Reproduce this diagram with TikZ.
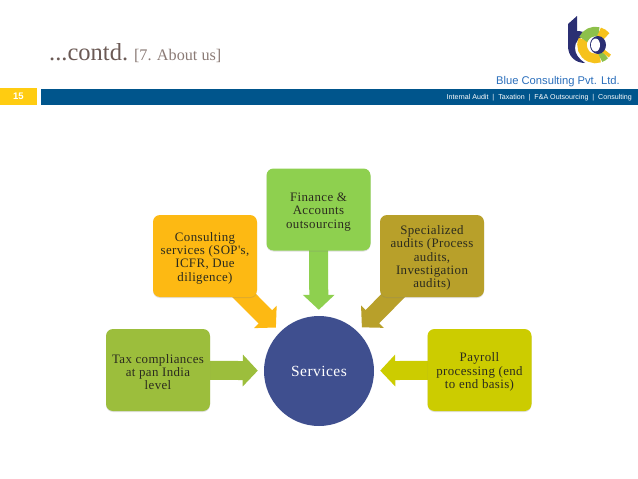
\documentclass[tikz,border=0pt]{standalone}
\usepackage{fontspec}
\setmainfont{Liberation Serif}
\setsansfont{Liberation Sans}
\newfontfamily\boxfont[LetterSpace=3]{Liberation Serif}
\newcommand{\toprule}{\rule{0pt}{13pt}}
\usetikzlibrary{arrows.meta,positioning,shadows,backgrounds}
\definecolor{barblue}{HTML}{00558C}
\definecolor{tagyellow}{HTML}{FFCC11}
\definecolor{titlebrown}{HTML}{6B5A55}
\definecolor{subbrown}{HTML}{8A7A75}
\definecolor{brandblue}{HTML}{2A6EBB}
\definecolor{logonavy}{HTML}{2B2F73}
\definecolor{logogreen}{HTML}{8DC04A}
\definecolor{logoyellow}{HTML}{F6C21C}
\definecolor{taxgreen}{HTML}{9CBE3C}
\definecolor{consultamber}{HTML}{FDB913}
\definecolor{financegreen}{HTML}{8ED04F}
\definecolor{auditgold}{HTML}{B8A02A}
\definecolor{payrollyellow}{HTML}{CCCC00}
\definecolor{servblue}{HTML}{3F4F8F}
\definecolor{boxtext}{HTML}{2B2B1E}
\tikzset{
  x=1pt, y=-1pt,
  svcbox/.style={
    fill=#1, rounded corners=7pt, text=boxtext,
    minimum width=104pt, minimum height=82pt,
    font=\boxfont\fontsize{12.9}{13.4}\selectfont, align=center,
    inner sep=2pt,
    drop shadow={opacity=0.25, shadow xshift=0pt, shadow yshift=-1pt},
  },
  blockarrow/.style={
    draw=#1, line width=19pt, shorten >=6pt, shorten <=-12pt,
    -{Triangle[length=15pt,width=31pt,fill=#1]},
  },
  logoring/.style={line width=9.5pt, draw=#1},
}

\begin{document}
\begin{tikzpicture}
  \useasboundingbox (0,0) rectangle (638,479);

  % header
  \node[anchor=base west, inner sep=0pt, text=titlebrown, font=\fontsize{24.5}{24.5}\selectfont] (title)
    at (49,60) {...contd.};
  \node[inner sep=0pt, text=subbrown, font=\fontsize{16.2}{16.2}\selectfont,
        right=5.5pt of title.base east, anchor=base west] (subtitle) {[7. About us]};
  \node[fill=tagyellow, minimum width=37pt, minimum height=17pt, inner sep=0pt,
        text=white, font=\sffamily\bfseries\fontsize{9.5}{9.5}\selectfont] (tag) at (18.5,96.5) {15};
  \node[fill=barblue, minimum width=597pt, minimum height=16pt, inner sep=0pt, anchor=west] (bar)
    at (41,97) {};
  \node[anchor=east, inner sep=0pt, text=white, font=\sffamily\fontsize{7.1}{7.1}\selectfont] (tagline)
    at (632,97.5) {Internal Audit\ \ |\ \ Taxation\ \ |\ \ F\&A Outsourcing\ \ |\ \ Consulting};
  \node[anchor=base east, inner sep=0pt, text=brandblue, font=\sffamily\fontsize{11.2}{11.2}\selectfont] (brand)
    at (620,84) {Blue Consulting Pvt. Ltd.};

  % logo
  \fill[logonavy] (568,24) -- (577,16) -- (577,31) .. controls (581,31) and (584,32) .. (587,34)
    .. controls (579,37) and (575,42) .. (575,48) .. controls (575,54) and (579,59) .. (585,63)
    .. controls (575,63) and (568,56) .. (568,46) -- cycle;
  \draw[logoring=logoyellow] (595.5,45) ++(205:13.5) arc (205:70:13.5);
  \draw[logoring=logogreen] (595.5,45) ++(205:13.5) arc (205:285:13.5);
  \draw[logoring=logoyellow] (595.5,45) ++(285:13.5) arc (285:322:13.5);
  \draw[logoring=logogreen] (595.5,45) ++(70:13.5) arc (70:45:13.5);
  \draw[logoring=logoyellow] (595.5,45) ++(45:13.5) arc (45:30:13.5);
  \fill[logonavy] (598,45) ellipse (8pt and 9pt);
  \fill[white] (595.5,45) ellipse (4.5pt and 6.5pt);

  % services
  \node[circle, fill=servblue, minimum size=110pt, inner sep=0pt, text=white,
        font=\boxfont\fontsize{15.5}{15.5}\selectfont] (services) at (319,371) {Services};
  \node[svcbox=taxgreen] (tax) at (158,370) {\toprule Tax compliances\\at pan India\\level};
  \node[svcbox=consultamber] (consulting) at (205,256) {\toprule Consulting\\services (SOP's,\\ICFR, Due\\diligence)};
  \node[svcbox=financegreen] (finance) at (318.5,209.5) {\toprule Finance \&\\Accounts\\outsourcing};
  \node[svcbox=auditgold] (audits) at (432,256) {\toprule Specialized\\audits (Process\\audits,\\Investigation\\audits)};
  \node[svcbox=payrollyellow] (payroll) at (479.5,370) {\toprule Payroll\\processing (end\\to end basis)};

  \begin{scope}[on background layer]
    \draw[blockarrow=taxgreen] (tax) -- (services);
    \draw[blockarrow=consultamber] (consulting) -- (services);
    \draw[blockarrow=financegreen] (finance) -- (services);
    \draw[blockarrow=auditgold] (audits) -- (services);
    \draw[blockarrow=payrollyellow] (payroll) -- (services);
  \end{scope}

\end{tikzpicture}
\end{document}
